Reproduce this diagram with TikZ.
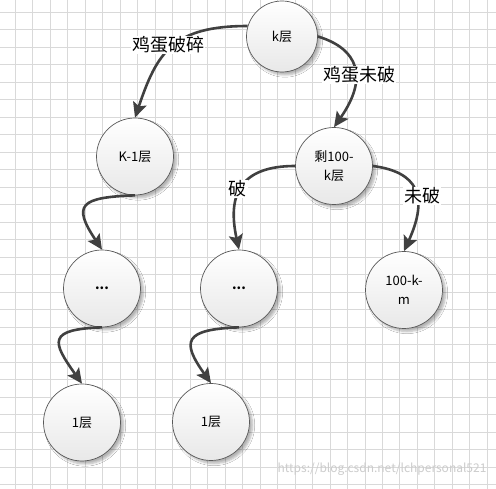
\documentclass[tikz,border=0pt]{standalone}
\usepackage{fontspec}
\setmainfont{Noto Sans CJK SC}
\usetikzlibrary{arrows.meta,shadows.blur}

\begin{document}
\begin{tikzpicture}[x=1pt,y=1pt,
	ball/.style={circle,draw=black!65,line width=0.7pt,top color=white,bottom color=black!9,minimum size=77pt,inner sep=0pt,align=center,font=\fontsize{13}{19}\selectfont,blur shadow={shadow xshift=3pt,shadow yshift=-3pt,shadow blur steps=6,shadow opacity=30}},
	fall/.style={line width=2.6pt,draw=black!75,-{Stealth[length=15pt,width=14pt,inset=3pt]}},
	cut/.style={fill=white,inner sep=1pt,font=\fontsize{18}{18}\selectfont},
	gridline/.style={draw=black!15,line width=0.8pt}]
	\useasboundingbox (0,0) rectangle (496,489);
\fill[white] (0,0) rectangle (496,489);
\foreach \i in {0,...,27} \draw[gridline] ({15.3+17.48*\i},0) -- ++(0,489);
\foreach \j in {0,...,27} \draw[gridline] (0,{476.7-17.5*\j}) -- ++(496,0);
\node[ball,minimum size=71pt] (k) at (282,452.5) {k层};
\node[ball] (km1) at (135,332.5) {K-1层};
\node[ball] (rest) at (334,323) {剩100-\\k层};
\node[ball] (d1) at (102,200.5) {\bfseries ...};
\node[ball] (d2) at (239,200.5) {\bfseries ...};
\node[ball] (m) at (404,199) {100-k-\\m};
\node[ball] (one1) at (82,66.5) {1层};
\node[ball] (one2) at (211,67) {1层};
\draw[fall] (k.163) .. controls +(-75,0) and +(22,65) .. (km1.north);
\draw[fall] (k.east) .. controls +(40,-12) and +(35,50) .. (rest.north);
\draw[fall] (rest.west) .. controls +(-55,0) and +(-12,55) .. (d2.north);
\draw[fall] (rest.east) .. controls +(45,-6) and +(25,55) .. (m.north);
\draw[fall] (km1.south) .. controls +(-55,-2) and +(-30,45) .. (d1.north);
\draw[fall] (d1.south) .. controls +(-55,-2) and +(-30,42) .. (one1.north);
\draw[fall] (d2.south) .. controls +(-55,-2) and +(-30,42) .. (one2.north);
\node[cut] (broken) at (168,444) {鸡蛋破碎};
\node[cut] (whole) at (359,414) {鸡蛋未破};
\node[cut] (broken2) at (237.5,300) {破};
\node[cut] (whole2) at (422,293) {未破};
\node[anchor=east,text=black!20,font=\fontsize{12}{12}\selectfont] (mark) at (490,20) {https://blog.csdn.net/lchpersonal521};
	\end{tikzpicture}
\end{document}
